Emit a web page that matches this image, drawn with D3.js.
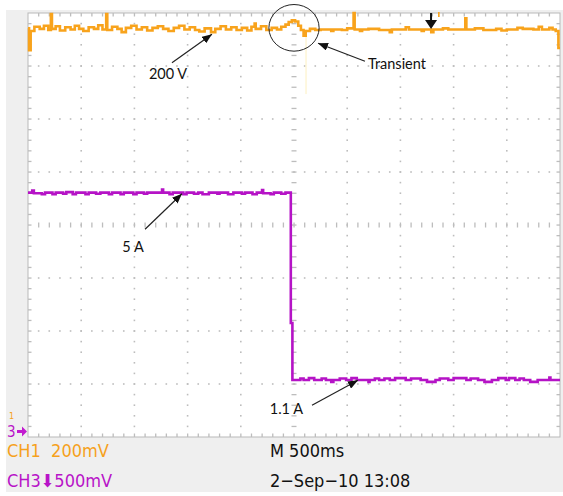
<!DOCTYPE html>
<html>
<head>
<meta charset="utf-8">
<script src="https://cdn.jsdelivr.net/npm/d3@7"></script>
<style>
  body { margin: 0; background: #fff; }
  svg { display: block; }
</style>
</head>
<body>
<script>
// scope settings: 10 x 8 divisions, 500 ms/div, values in divisions
var timeSpan = [0, 5000];
var divSpan = [-4, 4];

// CH1 (orange) - step samples, time in ms, level in div
var ch1Time = [0, 10, 25, 60, 110, 150, 190, 215, 225, 260, 300, 350, 400, 440, 480, 520, 570, 620, 660, 700,
  735, 745, 790, 840, 880, 920, 970, 1020, 1070, 1120, 1170, 1220, 1270, 1320, 1370, 1420, 1470, 1520, 1570, 1610,
  1660, 1720, 1760, 1810, 1860, 1910, 1960, 2010, 2060, 2100, 2130, 2140, 2190, 2240, 2290, 2340, 2380, 2420, 2450, 2480,
  2510, 2540, 2565, 2590, 2610, 2650, 2700, 2750, 2800, 2850, 2870, 2950, 3000, 3060, 3070, 3120, 3140, 3200, 3300, 3400,
  3420, 3500, 3550, 3580, 3700, 3720, 3790, 3810, 3900, 3950, 4110, 4120, 4200, 4280, 4400, 4450, 4500, 4600, 4650, 4750,
  4800, 4830, 4900, 4930, 4960, 4985, 5000];
var ch1Value = [3.71, 3.30, 3.66, 3.74, 3.70, 3.76, 3.68, 3.98, 3.70, 3.75, 3.67, 3.73, 3.69, 3.76, 3.70, 3.66, 3.73, 3.70, 3.77, 3.69,
  3.98, 3.68, 3.74, 3.70, 3.64, 3.72, 3.76, 3.69, 3.73, 3.67, 3.72, 3.75, 3.70, 3.66, 3.72, 3.76, 3.69, 3.73, 3.68, 3.65,
  3.71, 3.64, 3.70, 3.75, 3.69, 3.73, 3.68, 3.72, 3.67, 3.74, 3.80, 3.70, 3.75, 3.68, 3.72, 3.69, 3.74, 3.78, 3.83, 3.86,
  3.84, 3.76, 3.68, 3.57, 3.66, 3.70, 3.68, 3.69, 3.69, 3.66, 3.69, 3.68, 3.71, 4.00, 3.69, 3.66, 3.69, 3.70, 3.68, 3.64,
  3.69, 3.69, 3.73, 3.69, 3.66, 3.69, 3.64, 3.69, 3.71, 3.69, 3.90, 3.69, 3.71, 3.68, 3.70, 3.67, 3.69, 3.72, 3.70, 3.69,
  3.74, 3.69, 3.72, 3.69, 3.66, 3.34, 3.34];

// CH3 (magenta)
var ch3Time = [0, 40, 55, 130, 160, 230, 260, 330, 360, 420, 450, 540, 570, 640, 680, 760, 790, 870, 900, 990,
  1020, 1090, 1120, 1260, 1270, 1330, 1360, 1460, 1490, 1560, 1600, 1640, 1700, 1780, 1800, 1880, 1930, 2010, 2040, 2110,
  2150, 2200, 2210, 2280, 2310, 2380, 2420, 2470, 2485, 2500, 2560, 2590, 2640, 2690, 2760, 2800, 2850, 2870, 2930, 2990,
  3040, 3090, 3200, 3210, 3260, 3300, 3350, 3400, 3450, 3550, 3600, 3690, 3750, 3830, 3870, 3950, 4000, 4120, 4160, 4230,
  4290, 4360, 4420, 4490, 4520, 4580, 4620, 4660, 4720, 4790, 4900, 4910, 5000];
var ch3Value = [0.61, 0.65, 0.60, 0.58, 0.61, 0.58, 0.61, 0.59, 0.62, 0.58, 0.61, 0.58, 0.61, 0.59, 0.61, 0.58, 0.61, 0.58, 0.61, 0.58,
  0.61, 0.59, 0.61, 0.67, 0.61, 0.58, 0.61, 0.58, 0.61, 0.59, 0.61, 0.58, 0.61, 0.59, 0.61, 0.58, 0.61, 0.59, 0.61, 0.58,
  0.61, 0.66, 0.60, 0.58, 0.61, 0.59, 0.61, -1.85, -2.925, -2.925, -2.895, -2.925, -2.89, -2.925, -2.895, -2.925, -2.96, -2.925, -2.895, -2.925,
  -2.89, -2.925, -2.96, -2.925, -2.895, -2.925, -2.895, -2.925, -2.89, -2.925, -2.895, -2.925, -2.96, -2.925, -2.895, -2.925, -2.89, -2.925, -2.895, -2.925,
  -2.96, -2.925, -2.89, -2.925, -2.89, -2.925, -2.895, -2.925, -2.96, -2.925, -2.88, -2.925, -2.925];

// annotations: arrow tip, arrow tail, label position (all in ms / div)
var notes = [
  {label: "200 V", tip: [1729, 3.60], tail: [1353, 3.06], at: [1316, 2.75], anchor: "middle"},
  {label: "Transient", tip: [2726, 3.43], tail: [3167, 3.09], at: [3195, 2.95], anchor: "start"},
  {label: "5 A", tip: [1447, 0.59], tail: [1100, -0.08], at: [987, -0.50], anchor: "middle"},
  {label: "1.1 A", tip: [3101, -2.93], tail: [2669, -3.40], at: [2585, -3.56], anchor: "end"}
];
var transientCircle = {t: 2500, v: 3.72, rt: 236, rv: 0.44};
var triggerTime = 3788;
var ghostLine = {t: 2613, v: [3.69, 2.47]};

var statusRows = [
  [{text: "CH1  200mV", color: "#f6a11c"}, {text: "M 500ms", color: "#111"}],
  [{text: "CH3\u2B07500mV", color: "#b814c8"}, {text: "2\u2212Sep\u221210 13:08", color: "#111"}]
];

window.onload = function() {
  drawScope();
};

function drawScope() {
  var width = 563, height = 496;
  var plot = {left: 28, top: 13, right: 560, bottom: 437};

  var svg = d3.select("body").append("svg")
    .attr("width", width)
    .attr("height", height);

  var defs = svg.append("defs");
  defs.append("marker")
    .attr("id", "head")
    .attr("viewBox", "0 0 10 8")
    .attr("refX", 10).attr("refY", 4)
    .attr("markerWidth", 10).attr("markerHeight", 8)
    .attr("markerUnits", "userSpaceOnUse")
    .attr("orient", "auto")
    .append("path")
    .attr("d", "M0,0 L10,4 L0,8 Z")
    .attr("fill", "#111");

  // screen background
  svg.append("rect")
    .attr("x", 6).attr("y", 10)
    .attr("width", width - 6).attr("height", 482)
    .attr("fill", "#efefef");

  var xScale = d3.scaleLinear().domain(timeSpan).range([plot.left, plot.right]);
  var yScale = d3.scaleLinear().domain(divSpan).range([plot.bottom, plot.top]);

  svg.append("rect")
    .attr("x", plot.left).attr("y", plot.top)
    .attr("width", plot.right - plot.left).attr("height", plot.bottom - plot.top)
    .attr("fill", "#fff")
    .attr("stroke", "#b9b9b9");

  // graticule
  var grid = svg.append("g").attr("fill", "#bdbdbd");
  var majorT = d3.range(500, 5000, 500);
  var majorV = d3.range(-3, 4, 1);
  var minorT = d3.range(100, 5000, 100);
  var minorV = d3.range(-3.8, 4, 0.2);

  majorT.forEach(function(t) {
    var x = xScale(t);
    minorV.forEach(function(v) {
      if (t === 2500) {
        grid.append("rect").attr("x", x - 2.5).attr("y", yScale(v) - 0.6).attr("width", 5).attr("height", 1.3);
      } else {
        grid.append("rect").attr("x", x - 0.8).attr("y", yScale(v) - 0.8).attr("width", 1.6).attr("height", 1.6);
      }
    });
  });
  majorV.forEach(function(v) {
    var y = yScale(v);
    minorT.forEach(function(t) {
      if (v === 0) {
        grid.append("rect").attr("x", xScale(t) - 0.6).attr("y", y - 2.5).attr("width", 1.3).attr("height", 5);
      } else {
        grid.append("rect").attr("x", xScale(t) - 0.8).attr("y", y - 0.8).attr("width", 1.6).attr("height", 1.6);
      }
    });
  });

  // edge ticks
  minorT.forEach(function(t) {
    grid.append("rect").attr("x", xScale(t) - 0.6).attr("y", plot.top).attr("width", 1.3).attr("height", 3.5);
    grid.append("rect").attr("x", xScale(t) - 0.6).attr("y", plot.bottom - 3.5).attr("width", 1.3).attr("height", 3.5);
  });
  minorV.forEach(function(v) {
    grid.append("rect").attr("x", plot.left).attr("y", yScale(v) - 0.6).attr("width", 3.5).attr("height", 1.3);
    grid.append("rect").attr("x", plot.right - 3.5).attr("y", yScale(v) - 0.6).attr("width", 3.5).attr("height", 1.3);
  });

  // faint persistence line
  svg.append("line")
    .attr("x1", xScale(ghostLine.t)).attr("x2", xScale(ghostLine.t))
    .attr("y1", yScale(ghostLine.v[0])).attr("y2", yScale(ghostLine.v[1]))
    .attr("stroke", "#fdf0c0").attr("stroke-width", 1);

  var line = d3.line()
    .x(function(d) { return xScale(d.t); })
    .y(function(d) { return yScale(d.v); })
    .curve(d3.curveStepAfter);

  var ch1 = ch1Time.map(function(t, i) { return {t: t, v: ch1Value[i]}; });
  var ch3 = ch3Time.map(function(t, i) { return {t: t, v: ch3Value[i]}; });

  svg.append("path")
    .datum(ch3)
    .attr("d", line)
    .attr("fill", "none")
    .attr("stroke", "#b513c6")
    .attr("stroke-width", 2.6);

  svg.append("path")
    .datum(ch1)
    .attr("d", line)
    .attr("fill", "none")
    .attr("stroke", "#f8a31c")
    .attr("stroke-width", 2.6);

  // trigger marker
  var tx = xScale(triggerTime);
  svg.append("path")
    .attr("d", "M" + (tx - 1) + "," + plot.top + "h2v7h5l-6,9l-6,-9h5z")
    .attr("fill", "#111");
  svg.append("rect")
    .attr("x", tx + 7).attr("y", plot.top - 1)
    .attr("width", 1.6).attr("height", 5)
    .attr("fill", "#f8a31c");

  // channel ground markers
  svg.append("text")
    .attr("x", 9).attr("y", 419)
    .attr("font-family", "DejaVu Sans Condensed, sans-serif")
    .attr("font-size", 9)
    .attr("fill", "#f6a11c")
    .text("1");
  svg.append("text")
    .attr("x", 7).attr("y", 437)
    .attr("font-family", "DejaVu Sans Condensed, sans-serif")
    .attr("font-size", 15)
    .attr("fill", "#b814c8")
    .text("3");
  svg.append("path")
    .attr("d", "M17,430h5v-3.5l5,5l-5,5v-3.5h-5z")
    .attr("fill", "#c21bd0");

  // annotations
  svg.append("ellipse")
    .attr("cx", xScale(transientCircle.t))
    .attr("cy", yScale(transientCircle.v))
    .attr("rx", xScale(transientCircle.rt) - xScale(0))
    .attr("ry", yScale(0) - yScale(transientCircle.rv))
    .attr("fill", "none")
    .attr("stroke", "#222")
    .attr("stroke-width", 1);

  var ann = svg.selectAll(".note").data(notes).enter().append("g").attr("class", "note");
  ann.append("line")
    .attr("x1", function(d) { return xScale(d.tail[0]); })
    .attr("y1", function(d) { return yScale(d.tail[1]); })
    .attr("x2", function(d) { return xScale(d.tip[0]); })
    .attr("y2", function(d) { return yScale(d.tip[1]); })
    .attr("stroke", "#222")
    .attr("stroke-width", 1.2)
    .attr("marker-end", "url(#head)");
  ann.append("text")
    .attr("x", function(d) { return xScale(d.at[0]); })
    .attr("y", function(d) { return yScale(d.at[1]); })
    .attr("text-anchor", function(d) { return d.anchor; })
    .attr("font-family", "Lato, sans-serif")
    .attr("font-size", 14.5)
    .attr("fill", "#111")
    .text(function(d) { return d.label; });

  // status bar
  var colX = [7, 270];
  var rowY = [457, 487];
  statusRows.forEach(function(row, r) {
    row.forEach(function(cell, c) {
      svg.append("text")
        .attr("x", colX[c]).attr("y", rowY[r])
        .attr("font-family", "Liberation Sans Narrow, DejaVu Sans Condensed, sans-serif")
        .attr("font-size", 18)
        .attr("fill", cell.color)
        .attr("xml:space", "preserve")
        .style("white-space", "pre")
        .text(cell.text);
    });
  });
}
</script>
</body>
</html>
